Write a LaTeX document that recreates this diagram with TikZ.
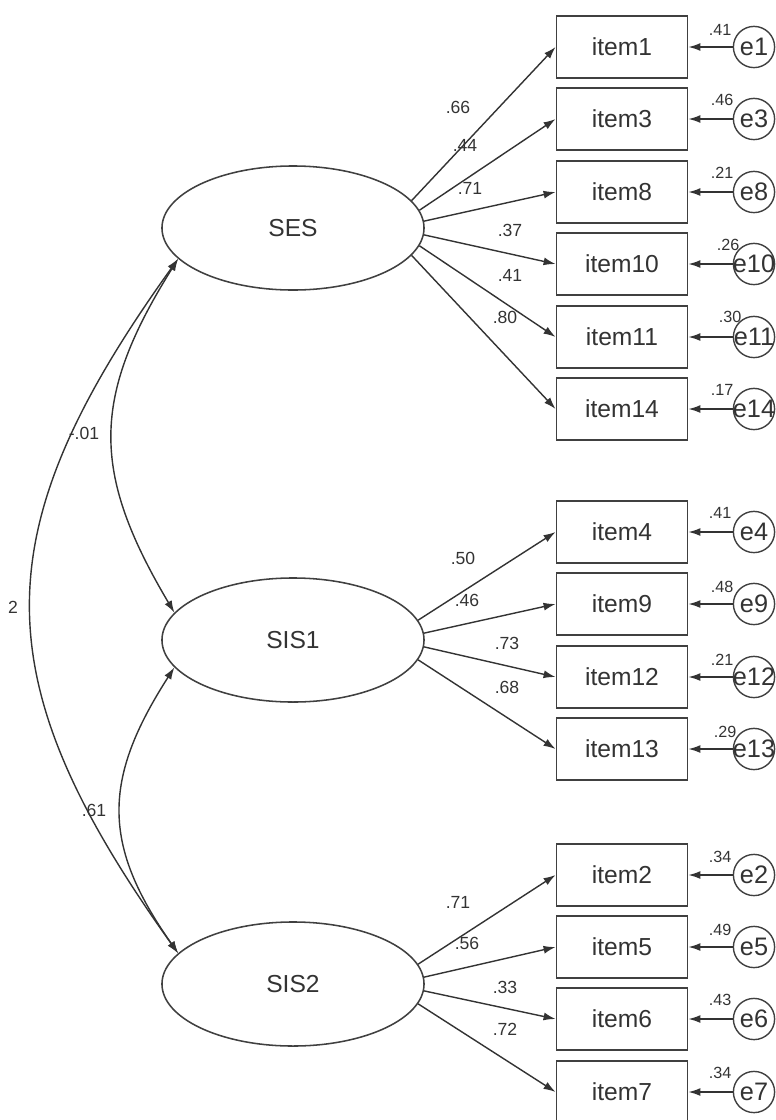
\documentclass[tikz,border=0pt]{standalone}
\usepackage{fontspec}
\setmainfont{Liberation Sans}
\usetikzlibrary{arrows.meta, shapes.geometric}

\begin{document}
\begin{tikzpicture}[x=0.025cm, y=-0.025cm,
  lat/.style={ellipse, draw=black!75, line width=1.1pt, minimum width=6.55cm, minimum height=3.1cm, font=\fontsize{17.5}{20}\selectfont, text=black!80},
  obs/.style={rectangle, draw=black!75, line width=1.3pt, minimum width=3.275cm, minimum height=1.55cm, font=\fontsize{17.5}{20}\selectfont, text=black!80},
  err/.style={circle, draw=black!75, line width=1pt, minimum size=1.03cm, inner sep=0, label={[font=\fontsize{18}{20}\selectfont, text=black!80]center:#1}},
  llab/.style={font=\fontsize{12.5}{14}\selectfont, text=black!80, inner sep=0},
  vlab/.style={font=\fontsize{11.5}{13}\selectfont, text=black!80, inner sep=0},
  arr/.style={draw=black!80, line width=1pt, -{Latex[length=3mm,width=2mm]}},
  dbl/.style={draw=black!80, line width=1pt, {Latex[length=3mm,width=2mm]}-{Latex[length=3mm,width=2mm]}}]
  \useasboundingbox (0,0) rectangle (776,1120);

  % latent factors
  \node[lat] (ses)  at (293,228) {SES};
  \node[lat] (sis1) at (293,640) {SIS1};
  \node[lat] (sis2) at (293,984) {SIS2};

  % items of SES
  \node[obs] (i1)  at (622,47)  {item1};
  \node[obs] (i3)  at (622,119) {item3};
  \node[obs] (i8)  at (622,192) {item8};
  \node[obs] (i10) at (622,264) {item10};
  \node[obs] (i11) at (622,337) {item11};
  \node[obs] (i14) at (622,409) {item14};
  % items of SIS1
  \node[obs] (i4)  at (622,532) {item4};
  \node[obs] (i9)  at (622,604) {item9};
  \node[obs] (i12) at (622,677) {item12};
  \node[obs] (i13) at (622,749) {item13};
  % items of SIS2
  \node[obs] (i2)  at (622,875)  {item2};
  \node[obs] (i5)  at (622,947)  {item5};
  \node[obs] (i6)  at (622,1019) {item6};
  \node[obs] (i7)  at (622,1092) {item7};

  % error terms
  \node[err=e1]  (e1)  at (754,47)  {};
  \node[err=e3]  (e3)  at (754,119) {};
  \node[err=e8]  (e8)  at (754,192) {};
  \node[err=e10] (e10) at (754,264) {};
  \node[err=e11] (e11) at (754,337) {};
  \node[err=e14] (e14) at (754,409) {};
  \node[err=e4]  (e4)  at (754,532) {};
  \node[err=e9]  (e9)  at (754,604) {};
  \node[err=e12] (e12) at (754,677) {};
  \node[err=e13] (e13) at (754,749) {};
  \node[err=e2]  (e2)  at (754,875)  {};
  \node[err=e5]  (e5)  at (754,947)  {};
  \node[err=e6]  (e6)  at (754,1019) {};
  \node[err=e7]  (e7)  at (754,1092) {};

  % loadings
  \draw[arr] (ses.13) -- (i1.west);
  \draw[arr] (ses.8) -- (i3.west);
  \draw[arr] (ses.3) -- (i8.west);
  \draw[arr] (ses.-3) -- (i10.west);
  \draw[arr] (ses.-8) -- (i11.west);
  \draw[arr] (ses.-13) -- (i14.west);
  \draw[arr] (sis1.9) -- (i4.west);
  \draw[arr] (sis1.3) -- (i9.west);
  \draw[arr] (sis1.-3) -- (i12.west);
  \draw[arr] (sis1.-9) -- (i13.west);
  \draw[arr] (sis2.9) -- (i2.west);
  \draw[arr] (sis2.3) -- (i5.west);
  \draw[arr] (sis2.-3) -- (i6.west);
  \draw[arr] (sis2.-9) -- (i7.west);

  % error paths
  \draw[arr] (e1) -- (i1);
  \draw[arr] (e3) -- (i3);
  \draw[arr] (e8) -- (i8);
  \draw[arr] (e10) -- (i10);
  \draw[arr] (e11) -- (i11);
  \draw[arr] (e14) -- (i14);
  \draw[arr] (e4) -- (i4);
  \draw[arr] (e9) -- (i9);
  \draw[arr] (e12) -- (i12);
  \draw[arr] (e13) -- (i13);
  \draw[arr] (e2) -- (i2);
  \draw[arr] (e5) -- (i5);
  \draw[arr] (e6) -- (i6);
  \draw[arr] (e7) -- (i7);

  % covariances
  \draw[dbl] (ses.195) .. controls (-18,532) and (-18,679) .. (sis2.165);
  \draw[dbl] (ses.195) .. controls (91,398) and (91,472) .. (sis1.167);
  \draw[dbl] (sis1.193) .. controls (102,780) and (102,845) .. (sis2.165);
  \node[llab] (c1) at (84,433) {-.01};
  \node[llab] (c2) at (13,607) {2};
  \node[llab] (c3) at (94,810) {.61};

  % loading values
  \node[llab] (l1)  at (458,107) {.66};
  \node[llab] (l3)  at (465,145) {.44};
  \node[llab] (l8)  at (470,188) {.71};
  \node[llab] (l10) at (510,230) {.37};
  \node[llab] (l11) at (510,275) {.41};
  \node[llab] (l14) at (505,317) {.80};
  \node[llab] (l4)  at (463,558) {.50};
  \node[llab] (l9)  at (467,600) {.46};
  \node[llab] (l12) at (507,643) {.73};
  \node[llab] (l13) at (507,687) {.68};
  \node[llab] (l2)  at (458,902) {.71};
  \node[llab] (l5)  at (467,943) {.56};
  \node[llab] (l6)  at (505,987) {.33};
  \node[llab] (l7)  at (505,1029) {.72};

  % squared multiple correlations
  \node[vlab] (r1)  at (720,30)  {.41};
  \node[vlab] (r3)  at (722,100) {.46};
  \node[vlab] (r8)  at (722,173) {.21};
  \node[vlab] (r10) at (728,245) {.26};
  \node[vlab] (r11) at (730,317) {.30};
  \node[vlab] (r14) at (722,390) {.17};
  \node[vlab] (r4)  at (720,513) {.41};
  \node[vlab] (r9)  at (722,587) {.48};
  \node[vlab] (r12) at (722,660) {.21};
  \node[vlab] (r13) at (725,732) {.29};
  \node[vlab] (r2)  at (720,857) {.34};
  \node[vlab] (r5)  at (720,930) {.49};
  \node[vlab] (r6)  at (720,1000) {.43};
  \node[vlab] (r7)  at (720,1073) {.34};
\end{tikzpicture}
\end{document}
